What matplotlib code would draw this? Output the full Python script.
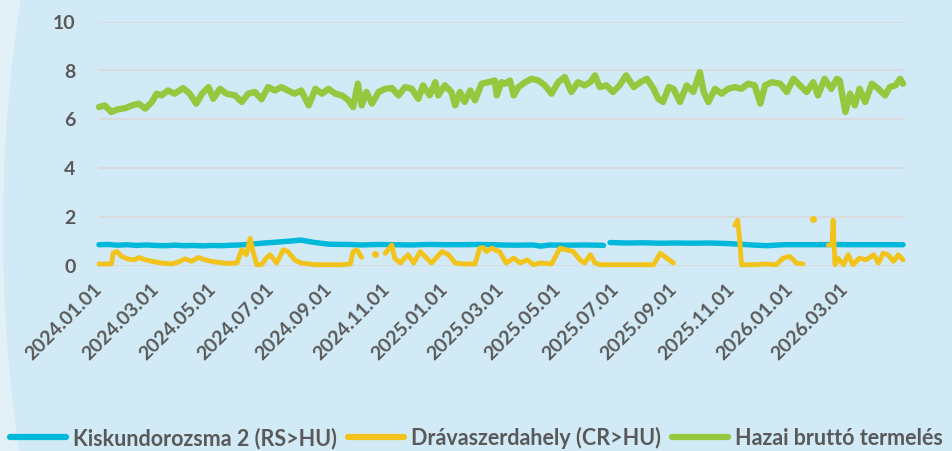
import numpy as np
import pandas as pd
import matplotlib
matplotlib.use("Agg")
import matplotlib.pyplot as plt
from matplotlib.patches import Ellipse
from matplotlib.lines import Line2D

# ---- data (day offsets from 2024-01-01) ----
start = pd.Timestamp("2024-01-01")
end_day = 851

green_days = [0, 6, 13, 20, 28, 35, 42, 49, 56, 61, 66, 73, 80, 89, 96, 103, 109, 116, 121, 128,
              135, 144, 151, 158, 165, 172, 179, 186, 193, 200, 207, 214, 222, 229, 236, 243, 250,
              257, 264, 269, 274, 278, 283, 289, 296, 303, 310, 317, 324, 331, 338, 343, 350, 356,
              359, 366, 373, 377, 382, 387, 393, 398, 405, 412, 419, 421, 426,
              430, 435, 439, 444, 451, 458, 465, 472, 479, 486, 493, 500, 507, 514, 520, 525, 530,
              537, 544, 551, 558, 566, 573, 580, 587, 592, 597, 603, 608, 615, 622, 629, 636, 640,
              645, 652, 659, 666, 673, 680, 687, 694, 700, 705, 712, 721, 728, 735, 742, 749, 756,
              761, 768, 775, 781, 784, 790, 795, 800, 805, 811, 818, 825, 832, 837, 843, 848, 851]
green_vals = [6.50, 6.57, 6.30, 6.41, 6.46, 6.57, 6.64, 6.44, 6.71, 7.05, 6.98, 7.18, 7.05, 7.28, 7.05,
              6.64, 7.05, 7.32, 6.84, 7.25, 7.05, 6.98, 6.71, 7.05, 7.12, 6.82, 7.32, 7.18, 7.32, 7.18,
              7.05, 7.18, 6.57, 7.25, 7.05, 7.25, 7.05, 6.98, 6.78, 6.50, 7.46, 6.57, 7.12, 6.64, 7.12,
              7.25, 7.28, 6.98, 7.32, 7.25, 6.84, 7.39, 6.98, 7.52, 6.98, 7.39, 7.12, 6.57, 7.12, 6.71,
              7.18, 6.78, 7.46, 7.52, 7.59, 6.98, 7.52,
              7.46, 7.59, 6.98, 7.32, 7.52, 7.66, 7.59, 7.39, 7.05, 7.52, 7.73, 7.12, 7.52, 7.39, 7.52,
              7.80, 7.32, 7.39, 7.12, 7.39, 7.80, 7.32, 7.52, 7.66, 7.25, 6.84, 6.71, 7.32, 7.25, 6.71,
              7.39, 7.12, 7.93, 7.12, 6.71, 7.25, 7.05, 7.25, 7.32, 7.25, 7.46, 7.39, 6.64, 7.39, 7.52,
              7.46, 7.12, 7.66, 7.39, 7.12, 7.52, 6.98, 7.66, 7.25, 7.66, 7.59, 6.30, 7.05, 6.57, 7.25,
              6.71, 7.46, 7.25, 6.98, 7.32, 7.39, 7.66, 7.46]

cyan_days = [0, 10, 20, 30, 40, 50, 60, 70, 80, 90, 100, 110, 120, 130, 140, 150, 160, 172, 186, 200,
             214, 225, 243, 264, 278, 296, 313, 331, 349, 366, 384, 402, 419, 424, 442, 460, 467, 477,
             495, 513, 530, 534, 537, 541, 558, 576, 594, 611, 629, 647, 664, 678, 696, 707, 724, 742,
             760, 777, 795, 813, 830, 851]
cyan_vals = [0.86, 0.87, 0.84, 0.86, 0.83, 0.85, 0.83, 0.82, 0.84, 0.82, 0.83, 0.81, 0.83, 0.82, 0.84,
             0.85, 0.88, 0.92, 0.96, 1.00, 1.05, 0.97, 0.88, 0.87, 0.85, 0.87, 0.86, 0.85, 0.87, 0.86,
             0.86, 0.87, 0.86, 0.85, 0.84, 0.85, 0.80, 0.85, 0.84, 0.85, 0.84, 0.83, np.nan, 0.95, 0.93,
             0.94, 0.92, 0.93, 0.92, 0.93, 0.91, 0.88, 0.84, 0.82, 0.86, 0.86, 0.86, 0.87, 0.86, 0.86,
             0.86, 0.86]

yellow_days = [0, 13, 15, 19, 24, 31, 38, 42, 49, 56, 66, 77, 84, 91, 98, 105, 112, 123, 137, 146,
               151, 156, 160, 163, 167, 172, 177, 181, 188, 195, 200, 207, 214, 229, 243, 257, 266,
               269, 273, 278, 284, 292, 297,
               303, 310, 313, 319, 327, 333, 340, 345, 352, 363, 370, 377, 387, 398, 403, 407, 410,
               416, 419, 424, 431, 439, 446, 453, 460, 467, 479, 488, 495, 502, 509, 514, 520, 525,
               530, 555, 580, 587, 594, 601, 608, 640,
               673, 676, 678, 680, 693, 707, 717, 724, 731, 735, 738, 745, 750, 756, 765,
               772, 776, 777, 779, 782, 788, 793, 798, 805, 812, 820, 825, 830, 835, 841, 846, 851]
yellow_vals = [0.07, 0.07, 0.51, 0.58, 0.38, 0.27, 0.24, 0.34, 0.24, 0.18, 0.11, 0.07, 0.15, 0.28,
               0.18, 0.34, 0.24, 0.15, 0.09, 0.11, 0.65, 0.45, 1.12, 0.58, 0.04, 0.04, 0.31, 0.45,
               0.11, 0.65, 0.58, 0.24, 0.11, 0.04, 0.04, 0.04, 0.07, 0.58, 0.65, 0.34, np.nan, 0.47,
               np.nan,
               0.51, 0.85, 0.30, 0.11, 0.45, 0.11, 0.58, 0.38, 0.11, 0.58, 0.45, 0.11, 0.07, 0.07,
               0.72, 0.74, 0.58, 0.72, 0.65, 0.58, 0.11, 0.31, 0.11, 0.24, 0.04, 0.11, 0.07, 0.72,
               0.65, 0.58, 0.24, 0.11, 0.45, 0.11, 0.04, 0.04, 0.04, 0.04, 0.51, 0.31, 0.11, np.nan,
               1.66, 1.86, 1.12, 0.04, 0.04, 0.07, 0.04, 0.31, 0.38, 0.24, 0.11, 0.07, np.nan, 1.93,
               np.nan,
               0.85, 0.85, 1.86, 0.04, 0.31, 0.04, 0.45, 0.04, 0.31, 0.24, 0.45, 0.11, 0.51, 0.45,
               0.18, 0.45, 0.24]

tick_labels = ["2024.01.01", "2024.03.01", "2024.05.01", "2024.07.01", "2024.09.01", "2024.11.01",
               "2025.01.01", "2025.03.01", "2025.05.01", "2025.07.01", "2025.09.01", "2025.11.01",
               "2026.01.01", "2026.03.01"]
series_names = ["Kiskundorozsma 2 (RS>HU)", "Drávaszerdahely (CR>HU)", "Hazai bruttó termelés"]
y_ticks = [0, 2, 4, 6, 8, 10]

# ---- style ----
C_CYAN = "#00B9DA"
C_YELLOW = "#F2C31A"
C_GREEN = "#93C83F"
TXT = "#595959"
FONT = ["Lato", "DejaVu Sans"]

def to_dates(days):
    return start + pd.to_timedelta(np.asarray(days, dtype=float), unit="D")

W, H = 953, 451
fig = plt.figure(figsize=(W / 100, H / 100), dpi=100)
fig.patch.set_facecolor("#e2f1f8")
bg = Ellipse((530 / W, 1 - 230 / H), 2 * 527 / W, 2 * 900 / H, transform=fig.transFigure,
             facecolor="#d1eaf5", edgecolor="none", zorder=-5)
fig.patches.append(bg)

ax = fig.add_axes([99 / W, 1 - 265.7 / H, 804 / W, 244 / H])
ax.set_zorder(2)
ax.set_facecolor("none")
for s in ax.spines.values():
    s.set_visible(False)

ax.set_ylim(0, 10)
ax.set_xlim(to_dates([0])[0], to_dates([end_day])[0])
ax.set_yticks(y_ticks)
ax.set_yticklabels([str(v) for v in y_ticks], fontsize=14, fontweight="bold", color=TXT, family=FONT)
ax.grid(axis="y", color="#d9d9d9", linewidth=1.2, zorder=1)
ax.set_axisbelow(True)
ax.tick_params(axis="both", length=0)
ax.tick_params(axis="y", pad=17)

tick_dates = pd.to_datetime(tick_labels, format="%Y.%m.%d")
ax.set_xticks(tick_dates)
ax.set_xticklabels(tick_labels, rotation=45, ha="right", va="center", rotation_mode="anchor",
                   fontsize=14, fontweight="bold", color=TXT, family=FONT)
ax.tick_params(axis="x", pad=15)

lkw = dict(solid_capstyle="round", solid_joinstyle="round", clip_on=False, zorder=3)
ax.plot(to_dates(green_days), green_vals, color=C_GREEN, lw=4.6, **lkw)
ax.plot(to_dates(cyan_days), cyan_vals, color=C_CYAN, lw=3.9, **lkw)
ax.plot(to_dates(yellow_days), yellow_vals, color=C_YELLOW, lw=3.5, **lkw)

# isolated yellow points (NaN on both sides) drawn as dots
yv = np.asarray(yellow_vals, dtype=float)
iso = [i for i in range(1, len(yv) - 1) if np.isnan(yv[i - 1]) and np.isnan(yv[i + 1]) and not np.isnan(yv[i])]
ax.plot(to_dates([yellow_days[i] for i in iso]), yv[iso], "o", color=C_YELLOW, ms=5,
        mec="none", zorder=3, clip_on=False)

handles = [Line2D([], [], color=c, lw=4.5, solid_capstyle="round") for c in (C_CYAN, C_YELLOW, C_GREEN)]
leg = fig.legend(handles, series_names, loc="center", bbox_to_anchor=(0.5, 1 - 438 / H), ncol=3,
                 frameon=False, handlelength=2.6, handletextpad=0.3, columnspacing=0.55,
                 prop=dict(family=FONT, weight="bold", size=15.5))
for t in leg.get_texts():
    t.set_color(TXT)

fig.savefig("out.png", dpi=100, facecolor=fig.get_facecolor())
